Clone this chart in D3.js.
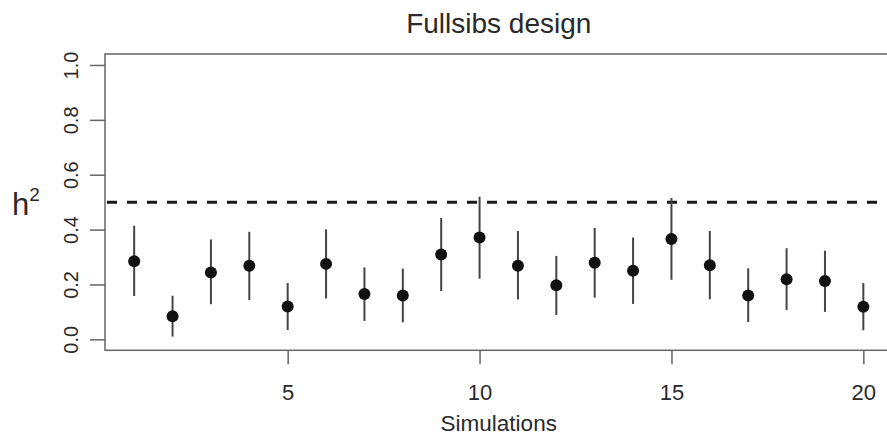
<!DOCTYPE html>
<html>
<head>
<meta charset="utf-8">
<script src="https://cdn.jsdelivr.net/npm/d3@7"></script>
<style>
  body { margin: 0; background: #fff; }
  svg { display: block; font-family: "Liberation Sans", Arial, sans-serif; }
</style>
</head>
<body>
<div id="chart"></div>
<script>
// simulation index and heritability estimates with interval bounds
const sims  = [1, 2, 3, 4, 5, 6, 7, 8, 9, 10, 11, 12, 13, 14, 15, 16, 17, 18, 19, 20];
const est   = [0.285, 0.084, 0.244, 0.268, 0.120, 0.275, 0.165, 0.160, 0.309, 0.371,
               0.268, 0.197, 0.279, 0.250, 0.366, 0.270, 0.160, 0.219, 0.213, 0.119];
const lower = [0.158, 0.010, 0.128, 0.143, 0.034, 0.149, 0.067, 0.062, 0.176, 0.221,
               0.145, 0.089, 0.152, 0.129, 0.217, 0.146, 0.063, 0.107, 0.100, 0.033];
const upper = [0.414, 0.159, 0.364, 0.392, 0.205, 0.401, 0.262, 0.258, 0.443, 0.520,
               0.395, 0.304, 0.406, 0.371, 0.515, 0.395, 0.259, 0.332, 0.323, 0.205];
const yTicks = [0, 0.2, 0.4, 0.6, 0.8, 1.0];
const xTicks = [5, 10, 15, 20];
const refLine = 0.5;

const width = 887, height = 437;

const svg = d3.select('#chart').append('svg')
    .attr('width', width)
    .attr('height', height);

// R style axes: 4% padding around the data range
const x = d3.scaleLinear().domain([0.24, 20.76]).range([105, 892.5]);
const y = d3.scaleLinear().domain([-0.04, 1.04]).range([350.3, 54]);

const axisCol = '#666';
const textCol = '#2a2a2a';

// y axis
const yAxis = svg.append('g')
    .attr('transform', `translate(${x(0.24)},0)`)
    .call(d3.axisLeft(y).tickValues(yTicks).tickSize(15).tickFormat(d3.format('.1f')));
yAxis.select('.domain').remove();
yAxis.selectAll('line').attr('stroke', axisCol).attr('stroke-width', 1.5);
yAxis.selectAll('text')
    .attr('transform', 'rotate(-90)')
    .attr('x', 0).attr('y', -27).attr('dy', 0)
    .attr('text-anchor', 'middle')
    .attr('fill', textCol)
    .style('font-size', '20px');

// x axis
const xAxis = svg.append('g')
    .attr('transform', `translate(0,${y(-0.04)})`)
    .call(d3.axisBottom(x).tickValues(xTicks).tickSize(14));
xAxis.select('.domain').remove();
xAxis.selectAll('line').attr('stroke', axisCol).attr('stroke-width', 1.5);
xAxis.selectAll('text')
    .attr('y', 50).attr('dy', 0)
    .attr('fill', textCol)
    .style('font-size', '22px');

// plot box
svg.append('rect')
    .attr('x', x(0.24)).attr('y', y(1.04))
    .attr('width', x(20.76) - x(0.24))
    .attr('height', y(-0.04) - y(1.04))
    .attr('fill', 'none')
    .attr('stroke', axisCol)
    .attr('stroke-width', 1.5);

// reference line
svg.append('line')
    .attr('x1', x(0.24)).attr('x2', x(20.76))
    .attr('y1', y(refLine)).attr('y2', y(refLine))
    .attr('stroke', '#1a1a1a')
    .attr('stroke-width', 3)
    .attr('stroke-dasharray', '10,10')
    .attr('stroke-dashoffset', -2);

const rows = sims.map((s, i) => ({ s, est: est[i], lo: lower[i], hi: upper[i] }));

// interval bars
svg.selectAll('line.bar')
    .data(rows)
    .join('line')
    .classed('bar', true)
    .attr('x1', d => x(d.s)).attr('x2', d => x(d.s))
    .attr('y1', d => y(d.lo)).attr('y2', d => y(d.hi))
    .attr('stroke', '#444')
    .attr('stroke-width', 2);

// point estimates
svg.selectAll('circle.pt')
    .data(rows)
    .join('circle')
    .classed('pt', true)
    .attr('cx', d => x(d.s))
    .attr('cy', d => y(d.est))
    .attr('r', 6)
    .attr('fill', '#111');

// title and labels
svg.append('text')
    .attr('x', (x(0.24) + x(20.76)) / 2).attr('y', 33)
    .attr('text-anchor', 'middle')
    .attr('fill', textCol)
    .style('font-size', '28px')
    .text('Fullsibs design');

svg.append('text')
    .attr('x', (x(0.24) + x(20.76)) / 2).attr('y', 431)
    .attr('text-anchor', 'middle')
    .attr('fill', textCol)
    .style('font-size', '22.5px')
    .text('Simulations');

const hLab = svg.append('text')
    .attr('x', 12).attr('y', 215)
    .attr('fill', textCol)
    .style('font-size', '31px');
hLab.append('tspan').text('h');
hLab.append('tspan')
    .attr('dy', -14)
    .style('font-size', '19px')
    .text('2');
</script>
</body>
</html>
